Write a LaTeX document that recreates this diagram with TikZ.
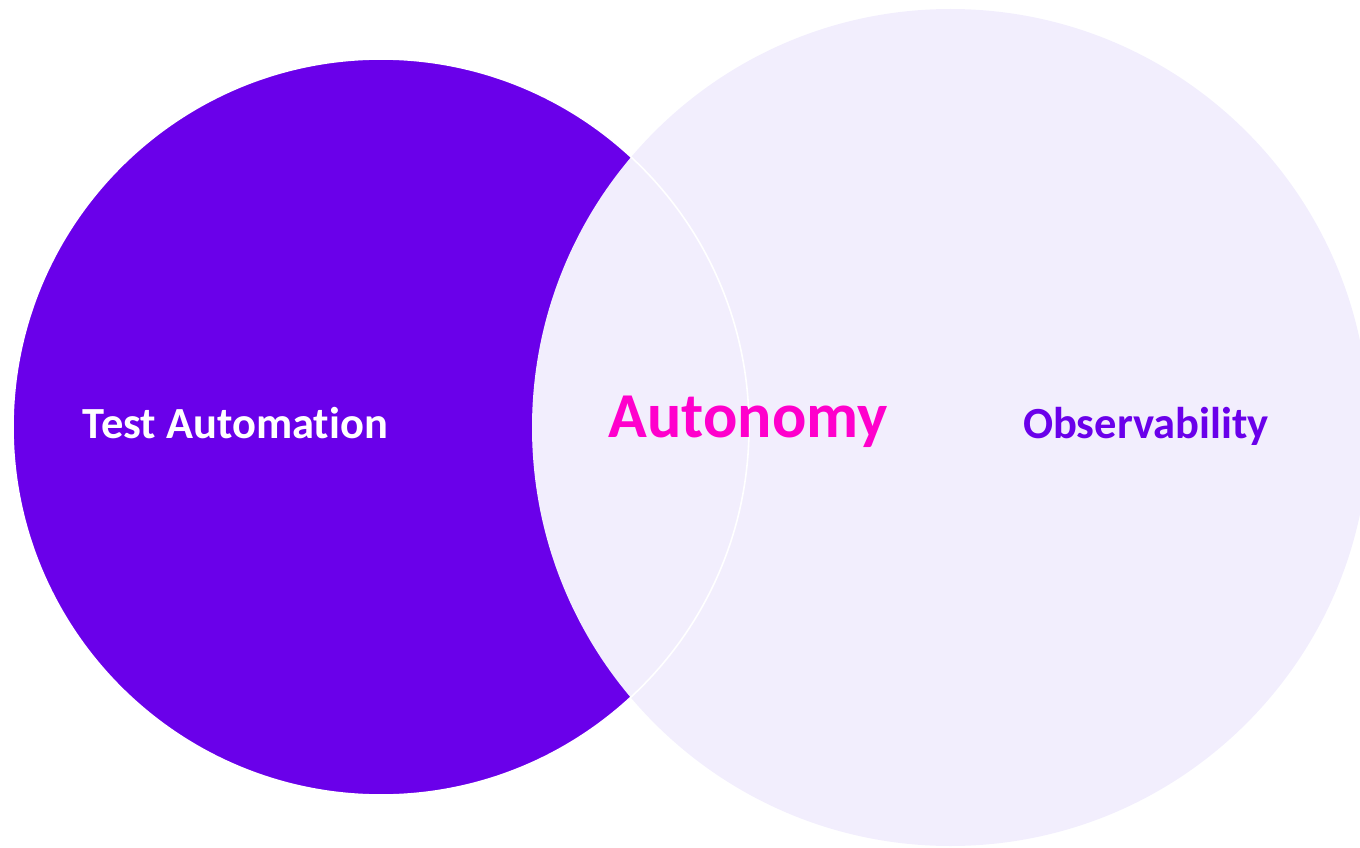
\documentclass[tikz,border=0pt]{standalone}
\usepackage{fontspec}
\setmainfont[RawFeature={-liga;-dlig}]{Carlito}
\definecolor{vpurple}{HTML}{6A00EA}
\definecolor{vlav}{HTML}{F2EEFD}
\definecolor{vmag}{HTML}{FF00CC}
\begin{document}
\begin{tikzpicture}[x=1pt,y=-1pt,
  setlabel/.style={anchor=base,inner sep=0pt,font=\bfseries}]
\useasboundingbox (0,0) rectangle (1360,848);
\begin{scope}
\clip (0,0) rectangle (1360,848);
\fill[vpurple] (381,427) circle[radius=368];
\fill[vlav] (950.5,427.5) circle[radius=418.5];
\draw[white,line width=1.6pt] (381,427) circle[radius=368];
\end{scope}
\node[setlabel,text=white,font=\bfseries\fontsize{44.5}{50}\selectfont] (ta) at (235.5,438) {Test Automation};
\node[setlabel,text=vmag,font=\bfseries\fontsize{64}{72}\selectfont] (au) at (748,437) {Autonomy};
\node[setlabel,text=vpurple,font=\bfseries\fontsize{44.5}{50}\selectfont] (ob) at (1146,438) {Observability};
\end{tikzpicture}
\end{document}
